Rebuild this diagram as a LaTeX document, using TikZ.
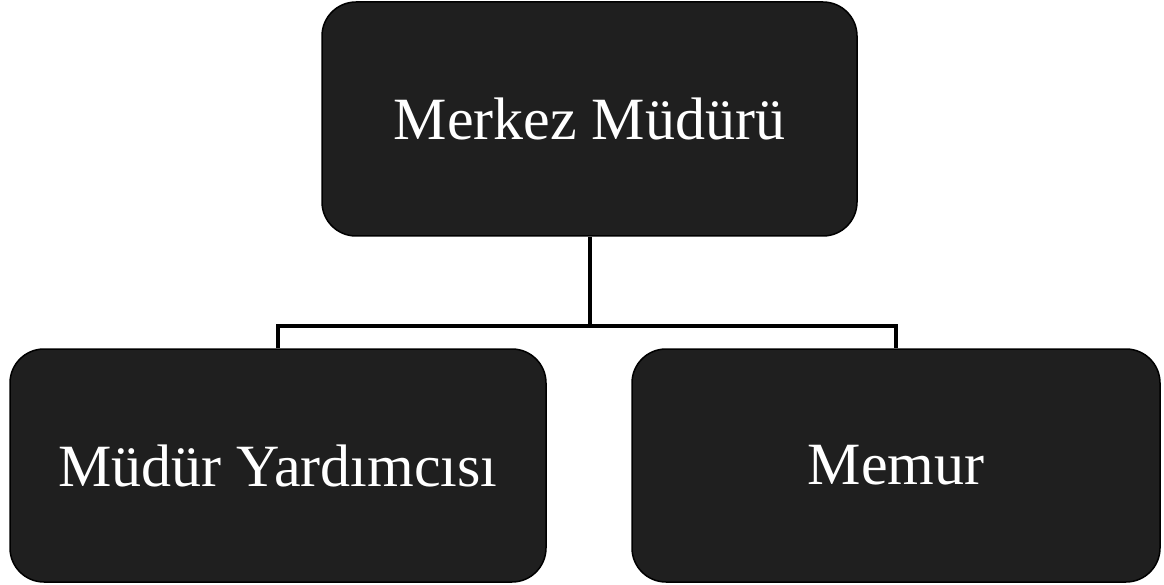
\documentclass[tikz,border=0pt]{standalone}
\usepackage{fontspec}
\setmainfont{Liberation Serif}
\begin{document}
\begin{tikzpicture}[x=1pt,y=-1pt,
  orgbox/.style={draw=black, fill=black!88, rounded corners=34pt, line width=1.5pt,
    text=white, font=\fontsize{60}{72}\selectfont, inner sep=0pt},
  link/.style={draw=black, line width=4pt}]
  \useasboundingbox (0,0) rectangle (1164,585);
  \node[orgbox, minimum width=535pt, minimum height=234pt] (mm) at (589.5,119) {Merkez Müdürü};
  \node[orgbox, minimum width=536pt, minimum height=233pt] (my) at (278,465.5) {Müdür Yardımcısı};
  \node[orgbox, minimum width=528pt, minimum height=233pt] (me) at (896,465.5) {Memur};
  \coordinate (bar) at (589.5,326);
  \draw[link] (mm.south) -- (bar);
  \draw[link] (my.north) |- (bar) -| (me.north);
\end{tikzpicture}
\end{document}
